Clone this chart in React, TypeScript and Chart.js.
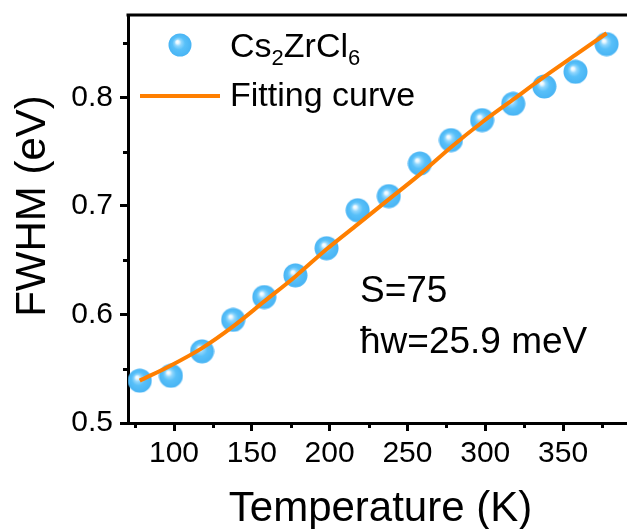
import React, { useEffect, useRef } from 'react';
import { Chart, registerables } from 'chart.js';

Chart.register(...registerables);

// ---- data ----
const temperatures = [78, 98, 118, 138, 158, 178, 198, 218, 238, 258, 278, 298, 318, 338, 358, 378];
const fwhmValues = [0.539, 0.5435, 0.566, 0.595, 0.616, 0.636, 0.661, 0.696, 0.709, 0.739, 0.7606, 0.779, 0.794, 0.81, 0.8235, 0.849];
const fitTemperatures = [78, 98, 118, 138, 158, 178, 198, 218, 238, 258, 278, 298, 318, 338, 358, 378];
const fitValues = [0.539, 0.553, 0.569, 0.589, 0.612, 0.635, 0.66, 0.683, 0.706, 0.729, 0.754, 0.777, 0.798, 0.819, 0.839, 0.859];
const xMajorTicks = [100, 150, 200, 250, 300, 350];
const xMinorTicks = [75, 125, 175, 225, 275, 325, 375];
const yMajorTicks = [0.5, 0.6, 0.7, 0.8];
const yMinorTicks = [0.55, 0.65, 0.75, 0.85];
const seriesLabel = ['Cs', '2', 'ZrCl', '6'];
const fitLabel = 'Fitting curve';
const xTitle = 'Temperature (K)';
const yTitle = 'FWHM (eV)';
const noteLines = ['S=75', 'ħw=25.9 meV'];

const FONT = "'Liberation Sans', Arial, Helvetica, sans-serif";
const ORANGE = '#FF7F00';

function makeSphere(r: number): HTMLCanvasElement {
  const c = document.createElement('canvas');
  const size = Math.ceil(r * 2) + 1;
  c.width = size;
  c.height = size;
  const ctx = c.getContext('2d')!;
  const cx = size / 2;
  const cy = size / 2;
  const g = ctx.createRadialGradient(cx - r * 0.25, cy - r * 0.3, 0, cx, cy, r);
  g.addColorStop(0, '#FFFFFF');
  g.addColorStop(0.13, '#EAF8FF');
  g.addColorStop(0.3, '#8FD6FD');
  g.addColorStop(0.55, '#58C0F9');
  g.addColorStop(1, '#48B4F4');
  ctx.fillStyle = g;
  ctx.beginPath();
  ctx.arc(cx, cy, r, 0, Math.PI * 2);
  ctx.fill();
  return c;
}

export default function App() {
  const ref = useRef<HTMLCanvasElement | null>(null);

  useEffect(() => {
    const canvas = ref.current;
    if (!canvas) return;
    const sphere = makeSphere(12);
    const legendSphere = makeSphere(11.5);

    const overlay = {
      id: 'overlay',
      afterDraw(chart: any) {
        const ctx = chart.ctx as CanvasRenderingContext2D;
        const xs = chart.scales.x;
        const ys = chart.scales.y;
        const area = chart.chartArea;
        ctx.save();
        ctx.strokeStyle = '#000';
        ctx.lineWidth = 3;
        // minor ticks
        xMinorTicks.forEach((v) => {
          const px = Math.round(xs.getPixelForValue(v)) + 0.5;
          ctx.beginPath();
          ctx.moveTo(px, area.bottom);
          ctx.lineTo(px, area.bottom + 5);
          ctx.stroke();
        });
        yMinorTicks.forEach((v) => {
          const py = Math.round(ys.getPixelForValue(v)) + 0.5;
          ctx.beginPath();
          ctx.moveTo(area.left - 5, py);
          ctx.lineTo(area.left, py);
          ctx.stroke();
        });
        // top border
        ctx.beginPath();
        ctx.moveTo(area.left - 1.5, area.top);
        ctx.lineTo(area.right, area.top);
        ctx.stroke();

        // legend
        ctx.drawImage(legendSphere, 180 - legendSphere.width / 2, 45 - legendSphere.height / 2);
        ctx.strokeStyle = ORANGE;
        ctx.lineWidth = 4;
        ctx.beginPath();
        ctx.moveTo(140, 96);
        ctx.lineTo(220, 96);
        ctx.stroke();

        ctx.fillStyle = '#000';
        ctx.textAlign = 'left';
        ctx.textBaseline = 'alphabetic';
        let x = 230;
        seriesLabel.forEach((part, i) => {
          const sub = i % 2 === 1;
          ctx.font = `${sub ? 22 : 34}px ${FONT}`;
          ctx.fillText(part, x, sub ? 65 : 57);
          x += ctx.measureText(part).width;
        });
        ctx.font = `34px ${FONT}`;
        ctx.fillText(fitLabel, 230, 106);

        // notes
        ctx.font = `37px ${FONT}`;
        ctx.fillText(noteLines[0], 360, 302);
        ctx.fillText(noteLines[1], 360, 353);

        // axis titles
        ctx.font = `42px ${FONT}`;
        ctx.textAlign = 'center';
        ctx.fillText(xTitle, (area.left + area.right) / 2 + 3, 521);
        ctx.save();
        ctx.translate(45, 206);
        ctx.rotate(-Math.PI / 2);
        ctx.fillText(yTitle, 0, 0);
        ctx.restore();
        ctx.restore();
      },
    };

    const chart = new Chart(canvas, {
      type: 'scatter',
      data: {
        datasets: [
          {
            label: 'Cs2ZrCl6',
            data: temperatures.map((t, i) => ({ x: t, y: fwhmValues[i] })),
            pointStyle: sphere as any,
            pointRadius: 12,
            pointHoverRadius: 12,
            showLine: false,
            order: 1,
          },
          {
            type: 'line',
            label: fitLabel,
            data: fitTemperatures.map((t, i) => ({ x: t, y: fitValues[i] })),
            borderColor: ORANGE,
            borderWidth: 4,
            pointRadius: 0,
            fill: false,
            cubicInterpolationMode: 'monotone',
            order: 0,
          } as any,
        ],
      },
      options: {
        animation: false,
        responsive: false,
        events: [],
        layout: { autoPadding: false, padding: { top: 15, right: 0, bottom: 0, left: 0 } },
        plugins: { legend: { display: false }, tooltip: { enabled: false } },
        scales: {
          x: {
            type: 'linear',
            position: 'bottom',
            min: 70.44,
            max: 391.1,
            border: { display: true, color: '#000', width: 3 },
            grid: {
              display: true,
              drawOnChartArea: false,
              drawTicks: true,
              tickLength: 8,
              tickWidth: 3,
              tickColor: '#000',
            },
            ticks: {
              color: '#000',
              font: { family: FONT, size: 30 },
              padding: 5,
              autoSkip: false,
              maxRotation: 0,
              minRotation: 0,
              callback: (v: any) => String(v),
            },
            afterBuildTicks: (s: any) => {
              s.ticks = xMajorTicks.map((v) => ({ value: v }));
            },
            afterFit: (s: any) => {
              s.height = 106;
              s.paddingLeft = 0;
              s.paddingRight = 0;
            },
          },
          y: {
            type: 'linear',
            position: 'left',
            min: 0.5,
            max: 0.8758,
            border: { display: true, color: '#000', width: 3 },
            grid: {
              display: true,
              drawOnChartArea: false,
              drawTicks: true,
              tickLength: 8,
              tickWidth: 3,
              tickColor: '#000',
            },
            ticks: {
              color: '#000',
              font: { family: FONT, size: 30 },
              padding: 7,
              autoSkip: false,
              callback: (v: any) => Number(v).toFixed(1),
            },
            afterBuildTicks: (s: any) => {
              s.ticks = yMajorTicks.map((v) => ({ value: v }));
            },
            afterFit: (s: any) => {
              s.width = 128;
              s.paddingTop = 0;
              s.paddingBottom = 0;
            },
          },
        },
      },
      plugins: [overlay],
    });
    return () => chart.destroy();
  }, []);

  return (
    <div style={{ position: 'absolute', left: 0, top: 0, width: 627, height: 529, background: '#fff' }}>
      <canvas ref={ref} width={627} height={529} style={{ display: 'block', width: 627, height: 529 }} />
    </div>
  );
}
